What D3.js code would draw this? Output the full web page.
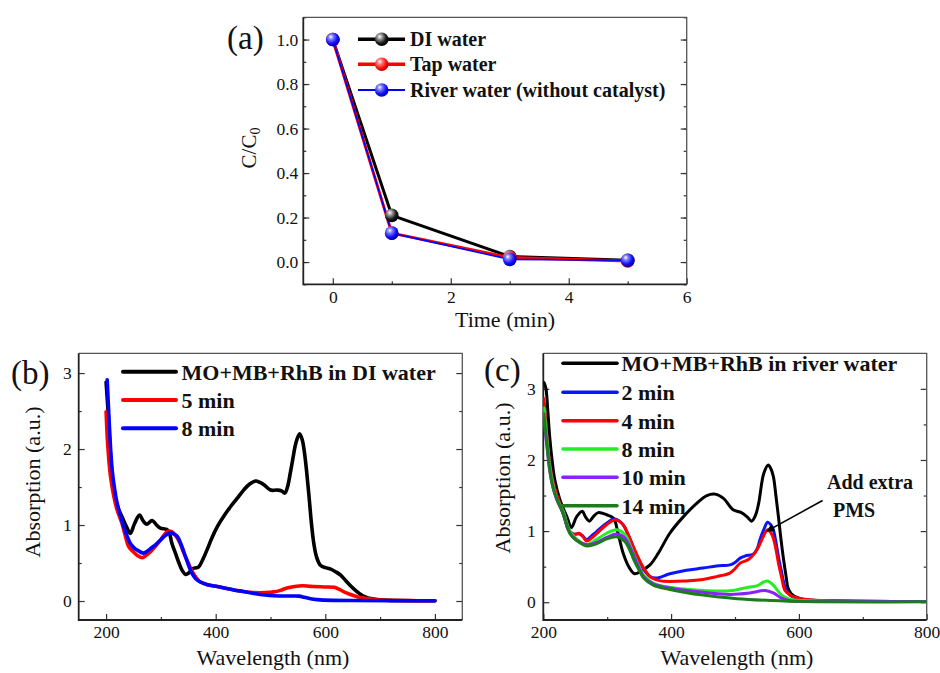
<!DOCTYPE html>
<html>
<head>
<meta charset="utf-8">
<script src="https://cdn.jsdelivr.net/npm/d3@7"></script>
<style>
  html, body { margin: 0; padding: 0; background: #fff; }
  svg { display: block; font-family: "Liberation Serif", "Times New Roman", serif; }
</style>
</head>
<body>
<svg id="fig" width="940" height="673"></svg>
<script>
// ---- (a) kinetics: C/C0 vs time ----
const timeMin = [0, 1, 3, 5];
const diWater = [1.0, 0.21, 0.025, 0.008];
const tapWater = [1.0, 0.13, 0.02, 0.005];
const riverWater = [1.0, 0.13, 0.012, 0.008];
const kineticsLabels = ["DI water", "Tap water", "River water (without catalyst)"];

// ---- (b) spectra in DI water: [wavelength nm, absorbance] ----
const specDI0 = [[200,2.88],[204,2.45],[207,2.03],[214,1.46],[222,1.22],[229,1.11],[237,0.98],[244,0.89],
  [252,1.02],[261,1.13],[268,1.05],[274,1.01],[284,1.06],[292,1.0],[299,0.96],[311,0.94],[316,0.88],
  [320,0.76],[327,0.62],[333,0.50],[339,0.40],[345,0.35],[351,0.37],[357,0.42],[369,0.45],[376,0.54],
  [384,0.67],[393,0.83],[403,0.98],[415,1.12],[427,1.24],[439,1.35],[451,1.46],[462,1.54],[473,1.58],
  [481,1.56],[488,1.53],[500,1.46],[512,1.46],[520,1.45],[526,1.42],[531,1.50],[536,1.68],[541,1.88],
  [546,2.07],[553,2.20],[558,2.12],[562,1.95],[566,1.70],[570,1.40],[575,1.00],[579,0.76],[584,0.58],
  [591,0.47],[600,0.44],[610,0.42],[620,0.38],[628,0.34],[637,0.27],[646,0.20],[655,0.14],[664,0.09],
  [673,0.055],[683,0.032],[695,0.018],[707,0.012],[740,0.006],[800,0.003]];
const specDI5 = [[200,2.49],[203,2.05],[208,1.64],[214,1.38],[220,1.20],[229,1.02],[235,0.86],[241,0.72],
  [249,0.65],[257,0.60],[266,0.57],[273,0.60],[281,0.65],[290,0.72],[299,0.80],[307,0.88],[314,0.92],
  [320,0.91],[327,0.86],[335,0.76],[342,0.63],[350,0.50],[357,0.39],[364,0.31],[372,0.25],[385,0.215],
  [403,0.19],[420,0.165],[433,0.145],[450,0.125],[470,0.11],[490,0.11],[506,0.12],[518,0.14],[530,0.17],
  [544,0.19],[558,0.20],[570,0.195],[579,0.19],[598,0.185],[616,0.18],[625,0.155],[634,0.12],[646,0.085],
  [658,0.057],[673,0.035],[689,0.02],[710,0.01],[750,0.005],[800,0.003]];
const specDI8 = [[202,2.91],[205,2.45],[208,2.03],[211,1.73],[215,1.50],[220,1.29],[226,1.13],[232,0.98],
  [238,0.86],[244,0.76],[251,0.70],[257,0.67],[268,0.63],[274,0.65],[281,0.69],[290,0.74],[299,0.80],
  [308,0.86],[317,0.90],[324,0.88],[330,0.85],[337,0.74],[345,0.58],[351,0.46],[357,0.36],[364,0.29],
  [372,0.25],[385,0.215],[403,0.19],[420,0.165],[433,0.145],[450,0.125],[470,0.10],[490,0.08],[506,0.07],
  [530,0.065],[552,0.064],[562,0.048],[573,0.03],[585,0.018],[597,0.012],[650,0.006],[800,0.003]];
const legendB = ["MO+MB+RhB in DI water", "5 min", "8 min"];

// ---- (c) spectra in river water ----
const specR0 = [[201,3.09],[204,3.01],[207,2.70],[210,2.33],[214,1.98],[218,1.72],[226,1.44],[237,1.20],
  [244,1.05],[252,1.20],[261,1.28],[266,1.20],[272,1.14],[279,1.21],[286,1.26],[299,1.23],[310,1.18],
  [317,0.97],[325,0.69],[335,0.48],[343,0.40],[354,0.445],[367,0.525],[380,0.69],[398,0.97],[419,1.20],
  [440,1.39],[456,1.50],[469,1.52],[482,1.46],[497,1.30],[510,1.26],[519,1.20],[526,1.14],[532,1.22],
  [537,1.39],[545,1.81],[552,1.93],[556,1.88],[560,1.77],[564,1.50],[568,1.20],[572,0.88],[576,0.60],
  [580,0.36],[583,0.20],[588,0.12],[594,0.08],[607,0.04],[650,0.02],[800,0.01]];
const specR2 = [[201,2.80],[205,2.40],[210,1.95],[215,1.70],[221,1.49],[229,1.30],[234,1.16],[239,1.02],
  [247,0.96],[257,0.96],[262,0.93],[268,0.88],[275,0.93],[283,0.99],[299,1.11],[311,1.17],[323,1.11],
  [336,0.88],[351,0.55],[367,0.36],[377,0.34],[398,0.40],[424,0.45],[450,0.48],[471,0.51],[492,0.525],
  [500,0.56],[508,0.62],[516,0.65],[529,0.68],[535,0.76],[539,0.88],[545,1.02],[551,1.125],[556,1.09],
  [560,1.02],[564,0.85],[568,0.64],[573,0.42],[578,0.22],[584,0.12],[589,0.08],[607,0.04],[650,0.02],[800,0.01]];
const specR4 = [[201,2.86],[205,2.40],[210,1.95],[215,1.70],[221,1.51],[229,1.32],[234,1.17],[239,1.03],
  [247,0.95],[256,0.97],[262,0.92],[268,0.86],[275,0.90],[283,0.96],[299,1.09],[313,1.16],[325,1.09],
  [333,0.95],[341,0.78],[349,0.62],[357,0.48],[365,0.38],[370,0.34],[383,0.30],[424,0.30],[450,0.32],
  [471,0.36],[492,0.41],[500,0.47],[508,0.55],[521,0.60],[531,0.69],[537,0.78],[542,0.88],[551,1.02],
  [556,0.98],[560,0.90],[564,0.75],[568,0.55],[573,0.35],[578,0.17],[585,0.11],[591,0.08],[612,0.04],
  [650,0.02],[800,0.01]];
const specR8 = [[201,2.73],[205,2.35],[210,1.91],[215,1.66],[221,1.46],[231,1.28],[242,0.99],[252,0.89],
  [268,0.81],[283,0.88],[299,0.97],[315,1.02],[328,0.95],[336,0.80],[343,0.64],[350,0.50],[357,0.38],
  [372,0.27],[398,0.21],[450,0.165],[492,0.16],[505,0.18],[518,0.205],[534,0.23],[550,0.30],[560,0.24],
  [567,0.16],[573,0.10],[586,0.04],[620,0.02],[800,0.01]];
const specR10 = [[201,2.55],[205,2.25],[210,1.86],[215,1.62],[221,1.44],[231,1.25],[242,0.97],[252,0.87],
  [268,0.81],[283,0.84],[299,0.91],[315,0.96],[328,0.90],[336,0.77],[343,0.62],[350,0.48],[357,0.36],
  [372,0.26],[398,0.20],[450,0.14],[492,0.11],[523,0.13],[547,0.165],[560,0.13],[573,0.056],[586,0.02],
  [620,0.012],[800,0.01]];
const specR14 = [[201,2.65],[205,2.28],[210,1.86],[215,1.62],[221,1.46],[231,1.25],[242,0.96],[252,0.87],
  [268,0.79],[283,0.82],[299,0.89],[315,0.92],[328,0.85],[336,0.72],[343,0.57],[350,0.45],[357,0.34],
  [372,0.24],[398,0.18],[450,0.10],[503,0.05],[555,0.025],[607,0.01],[800,0.005]];
const legendC = ["MO+MB+RhB in river water", "2 min", "4 min", "8 min", "10 min", "14 min"];
// arrow pointing at the spectrum after the extra PMS dose: tail, tip (data units)
const pmsArrow = [[637, 1.43], [550, 1.0]];
const pmsText = ["Add extra", "PMS"];

const svg = d3.select("#fig");
const defs = svg.append("defs");

// shaded ball markers
function ballGradient(id, light, base, dark) {
  const g = defs.append("radialGradient").attr("id", id)
    .attr("cx", "38%").attr("cy", "35%").attr("r", "65%").attr("fx", "35%").attr("fy", "30%");
  g.append("stop").attr("offset", "0%").attr("stop-color", "#ffffff");
  g.append("stop").attr("offset", "28%").attr("stop-color", light);
  g.append("stop").attr("offset", "70%").attr("stop-color", base);
  g.append("stop").attr("offset", "100%").attr("stop-color", dark);
}
ballGradient("ballK", "#9a9a9a", "#1a1a1a", "#000000");
ballGradient("ballR", "#ff8080", "#ff1010", "#c00000");
ballGradient("ballB", "#8080ff", "#1010ff", "#0000b0");

defs.append("marker").attr("id", "arrowHead")
  .attr("viewBox", "0 0 10 10").attr("refX", 9).attr("refY", 5)
  .attr("markerWidth", 9).attr("markerHeight", 8).attr("markerUnits", "userSpaceOnUse")
  .attr("orient", "auto")
  .append("path").attr("d", "M0,0 L10,5 L0,10 Z").attr("fill", "#000");

const tickFont = 17.5;
const frameColor = "#333";

function makePanel(o) {
  const g = svg.append("g");
  const x = d3.scaleLinear().domain(o.xDomain).range([o.left, o.right]);
  const y = d3.scaleLinear().domain(o.yDomain).range([o.bottom, o.top]);

  const styleAxis = sel => {
    sel.select(".domain").remove();
    sel.selectAll("line").attr("stroke", frameColor).attr("stroke-width", 1.2);
    sel.selectAll("text").attr("font-size", tickFont).attr("fill", "#111")
      .attr("font-family", "Liberation Serif, Times New Roman, serif");
  };
  // bottom
  g.append("g").attr("transform", `translate(0,${o.bottom})`)
    .call(d3.axisBottom(x).tickValues(o.xMinor).tickSize(-3).tickFormat(""))
    .call(styleAxis);
  g.append("g").attr("transform", `translate(0,${o.bottom})`)
    .call(d3.axisBottom(x).tickValues(o.xMajor).tickSize(-6).tickPadding(6).tickFormat(o.xFormat))
    .call(styleAxis);
  // left
  g.append("g").attr("transform", `translate(${o.left},0)`)
    .call(d3.axisLeft(y).tickValues(o.yMinor).tickSize(-3).tickFormat(""))
    .call(styleAxis);
  g.append("g").attr("transform", `translate(${o.left},0)`)
    .call(d3.axisLeft(y).tickValues(o.yMajor).tickSize(-6).tickPadding(o.yPad).tickFormat(o.yFormat))
    .call(styleAxis);
  // right mirror
  g.append("g").attr("transform", `translate(${o.right},0)`)
    .call(d3.axisRight(y).tickValues(o.yMinor).tickSize(-3).tickFormat(""))
    .call(styleAxis);
  g.append("g").attr("transform", `translate(${o.right},0)`)
    .call(d3.axisRight(y).tickValues(o.yMajor).tickSize(-6).tickFormat(""))
    .call(styleAxis);

  // frame: heavier left/bottom axes, lighter top/right
  g.append("path")
    .attr("d", `M${o.left},${o.top} H${o.right} V${o.bottom}`)
    .attr("fill", "none").attr("stroke", "#555").attr("stroke-width", 1.3);
  g.append("path")
    .attr("d", `M${o.left},${o.top} V${o.bottom} H${o.right}`)
    .attr("fill", "none").attr("stroke", "#222").attr("stroke-width", 1.8);

  // axis titles
  g.append("text").attr("x", o.xTitlePos[0]).attr("y", o.xTitlePos[1])
    .attr("text-anchor", "middle").attr("font-size", 22).attr("fill", "#111").text(o.xTitle);
  const yt = g.append("text")
    .attr("transform", `translate(${o.yTitlePos[0]},${o.yTitlePos[1]}) rotate(-90)`)
    .attr("text-anchor", "middle").attr("font-size", o.yTitleSize || 22).attr("fill", "#111");
  o.yTitle(yt);

  // panel letter
  g.append("text").attr("x", o.letterPos[0]).attr("y", o.letterPos[1])
    .attr("font-size", 33).attr("fill", "#111").text(o.letter);

  const clip = "clip" + o.letter.replace(/\W/g, "");
  defs.append("clipPath").attr("id", clip).append("rect")
    .attr("x", o.left).attr("y", o.top).attr("width", o.right - o.left).attr("height", o.bottom - o.top);
  const plot = g.append("g").attr("clip-path", `url(#${clip})`);
  return { g, plot, x, y };
}

// ================= panel (a) =================
const pa = makePanel({
  left: 303.3, right: 686.7, top: 17.3, bottom: 284.3,
  xDomain: [-0.5, 6], yDomain: [-0.1, 1.1],
  xMajor: [0, 2, 4, 6], xMinor: [1, 3, 5], xFormat: d3.format("d"),
  yMajor: [0, 0.2, 0.4, 0.6, 0.8, 1.0], yMinor: d3.range(-0.1, 1.15, 0.1), yFormat: d3.format(".1f"), yPad: 5,
  xTitle: "Time (min)", xTitlePos: [505, 327],
  yTitlePos: [256, 148], yTitleSize: 21,
  yTitle: t => { t.append("tspan").text("C/C"); t.append("tspan").attr("font-size", 14).attr("dy", 4).text("0"); },
  letter: "(a)", letterPos: [227, 49]
});
{
  const series = [
    { v: diWater, color: "#000", w: 3, ball: "ballK" },
    { v: tapWater, color: "#ff0000", w: 3, ball: "ballR" },
    { v: riverWater, color: "#0000ff", w: 1.6, ball: "ballB" }
  ];
  const line = d3.line().x(d => pa.x(d[0])).y(d => pa.y(d[1]));
  series.forEach(s => {
    const pts = timeMin.map((t, i) => [t, s.v[i]]);
    pa.g.append("path").attr("d", line(pts)).attr("fill", "none")
      .attr("stroke", s.color).attr("stroke-width", s.w).attr("stroke-linejoin", "round");
  });
  series.forEach(s => {
    pa.g.selectAll(null).data(timeMin.map((t, i) => [t, s.v[i]])).enter().append("circle")
      .attr("cx", d => pa.x(d[0])).attr("cy", d => pa.y(d[1])).attr("r", 6.8)
      .attr("fill", `url(#${s.ball})`);
  });
  // legend
  const ly = [39.3, 64.3, 90];
  series.forEach((s, i) => {
    pa.g.append("line").attr("x1", 358).attr("x2", 405).attr("y1", ly[i]).attr("y2", ly[i])
      .attr("stroke", s.color).attr("stroke-width", s.w + 0.5);
    pa.g.append("circle").attr("cx", 381.7).attr("cy", ly[i]).attr("r", 6.8).attr("fill", `url(#${s.ball})`);
    pa.g.append("text").attr("x", 410).attr("y", ly[i] + 7).attr("font-size", 20).attr("font-weight", "bold")
      .attr("fill", "#111").text(kineticsLabels[i]);
  });
}

// ================= panel (b) =================
const pb = makePanel({
  left: 78.7, right: 462.3, top: 353.3, bottom: 620,
  xDomain: [150, 850], yDomain: [-0.25, 3.26],
  xMajor: [200, 400, 600, 800], xMinor: [300, 500, 700], xFormat: d3.format("d"),
  yMajor: [0, 1, 2, 3], yMinor: [0.5, 1.5, 2.5], yFormat: d3.format("d"), yPad: 7,
  xTitle: "Wavelength (nm)", xTitlePos: [273, 665],
  yTitlePos: [40, 482], yTitle: t => t.text("Absorption (a.u.)"),
  letter: "(b)", letterPos: [11, 384]
});
{
  const line = d3.line().curve(d3.curveCatmullRom.alpha(0.5)).x(d => pb.x(d[0])).y(d => pb.y(d[1]));
  const spectra = [
    { d: specDI0, color: "#000000" },
    { d: specDI5, color: "#ff0000" },
    { d: specDI8, color: "#0000ff" }
  ];
  spectra.forEach(s => {
    pb.plot.append("path").attr("d", line(s.d)).attr("fill", "none")
      .attr("stroke", s.color).attr("stroke-width", 3.6).attr("stroke-linejoin", "round").attr("stroke-linecap", "round");
  });
  const ly = [371.7, 400, 428.3];
  spectra.forEach((s, i) => {
    pb.g.append("line").attr("x1", 123).attr("x2", 176).attr("y1", ly[i]).attr("y2", ly[i])
      .attr("stroke", s.color).attr("stroke-width", 4).attr("stroke-linecap", "round");
    pb.g.append("text").attr("x", 181.5).attr("y", ly[i] + 8).attr("font-size", 22).attr("font-weight", "bold")
      .attr("fill", "#111").text(legendB[i]);
  });
}

// ================= panel (c) =================
const pc = makePanel({
  left: 543.3, right: 926.7, top: 353.3, bottom: 620,
  xDomain: [200, 800], yDomain: [-0.25, 3.5],
  xMajor: [200, 400, 600, 800], xMinor: [300, 500, 700], xFormat: d3.format("d"),
  yMajor: [0, 1, 2, 3], yMinor: [0.5, 1.5, 2.5], yFormat: d3.format("d"), yPad: 7.5,
  xTitle: "Wavelength (nm)", xTitlePos: [737, 665],
  yTitlePos: [510, 478], yTitle: t => t.text("Absorption (a.u.)"),
  letter: "(c)", letterPos: [484, 381]
});
{
  const line = d3.line().curve(d3.curveCatmullRom.alpha(0.5)).x(d => pc.x(d[0])).y(d => pc.y(d[1]));
  const spectra = [
    { d: specR0, color: "#000000" },
    { d: specR2, color: "#0a14ff" },
    { d: specR4, color: "#ff0000" },
    { d: specR8, color: "#22ee22" },
    { d: specR10, color: "#8a22ff" },
    { d: specR14, color: "#1c7c1c" }
  ];
  spectra.forEach(s => {
    pc.plot.append("path").attr("d", line(s.d)).attr("fill", "none")
      .attr("stroke", s.color).attr("stroke-width", 3).attr("stroke-linejoin", "round").attr("stroke-linecap", "round");
  });
  const ly = [363.3, 392.3, 420.7, 449, 477.3, 505.7];
  spectra.forEach((s, i) => {
    pc.g.append("line").attr("x1", 563).attr("x2", 617).attr("y1", ly[i]).attr("y2", ly[i])
      .attr("stroke", s.color).attr("stroke-width", 3.6).attr("stroke-linecap", "round");
    pc.g.append("text").attr("x", 621.5).attr("y", ly[i] + 8).attr("font-size", 22).attr("font-weight", "bold")
      .attr("fill", "#111").text(legendC[i]);
  });
  // annotation
  pc.g.append("line")
    .attr("x1", pc.x(pmsArrow[0][0])).attr("y1", pc.y(pmsArrow[0][1]))
    .attr("x2", pc.x(pmsArrow[1][0])).attr("y2", pc.y(pmsArrow[1][1]))
    .attr("stroke", "#000").attr("stroke-width", 1.6).attr("marker-end", "url(#arrowHead)");
  pc.g.append("text").attr("x", 827).attr("y", 488.5).attr("font-size", 20).attr("font-weight", "bold")
    .attr("fill", "#111").text(pmsText[0]);
  pc.g.append("text").attr("x", 833).attr("y", 516.5).attr("font-size", 20).attr("font-weight", "bold")
    .attr("fill", "#111").text(pmsText[1]);
}
</script>
</body>
</html>
